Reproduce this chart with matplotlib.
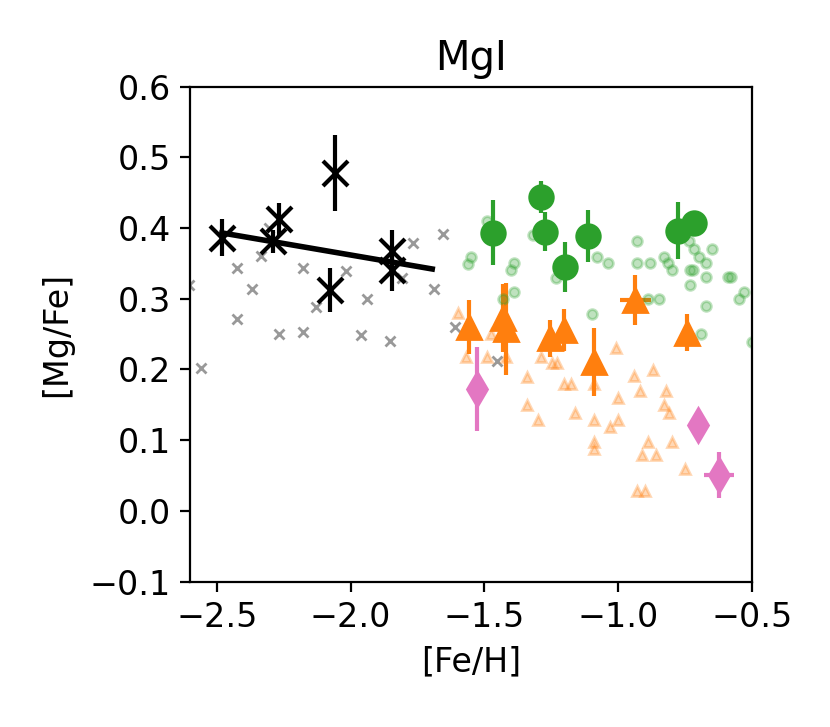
import matplotlib
matplotlib.use("Agg")
import matplotlib.pyplot as plt

plt.rcParams["font.size"] = 12

# literature stars (small, faint)
lit_metal_poor_feh = [-2.605, -2.561, -2.425, -2.367, -2.425, -2.334, -2.305, -2.269, -2.179, -2.179,
                      -2.129, -2.019, -1.938, -1.962, -1.854, -1.767, -1.808, -1.688, -1.653, -1.611, -1.454]
lit_metal_poor_mgfe = [0.319, 0.2015, 0.343, 0.313, 0.271, 0.360, 0.400, 0.250, 0.343, 0.253,
                       0.288, 0.339, 0.300, 0.249, 0.240, 0.379, 0.329, 0.314, 0.392, 0.260, 0.212]

lit_orange_feh = [-1.599, -1.570, -1.491, -1.476, -1.420, -1.339, -1.339, -1.299, -1.289, -1.249,
                  -1.227, -1.202, -1.177, -1.162, -1.092, -1.092, -1.092, -1.092, -1.030, -1.000,
                  -1.000, -1.008, -0.940, -0.920, -0.870, -0.820, -0.830, -0.811, -0.890, -0.911,
                  -0.858, -0.800, -0.750, -0.930, -0.898]
lit_orange_mgfe = [0.280, 0.218, 0.218, 0.250, 0.218, 0.189, 0.149, 0.128, 0.218, 0.209,
                   0.209, 0.179, 0.179, 0.139, 0.179, 0.128, 0.098, 0.088, 0.119, 0.159,
                   0.128, 0.230, 0.190, 0.169, 0.199, 0.169, 0.149, 0.139, 0.098, 0.079,
                   0.079, 0.098, 0.059, 0.028, 0.028]

lit_green_feh = [-1.491, -1.551, -1.560, -1.389, -1.401, -1.389, -1.429, -1.320, -1.233, -1.079,
                 -1.039, -1.099, -0.930, -0.930, -0.880, -0.890, -0.848, -0.830, -0.812, -0.800,
                 -0.737, -0.717, -0.699, -0.649, -0.670, -0.730, -0.720, -0.670, -0.730, -0.590,
                 -0.580, -0.530, -0.550, -0.670, -0.690, -0.500]
lit_green_mgfe = [0.410, 0.359, 0.349, 0.350, 0.340, 0.309, 0.300, 0.390, 0.329, 0.359,
                  0.350, 0.279, 0.381, 0.350, 0.350, 0.300, 0.300, 0.359, 0.350, 0.340,
                  0.381, 0.370, 0.359, 0.370, 0.350, 0.340, 0.340, 0.330, 0.319, 0.330,
                  0.330, 0.310, 0.299, 0.290, 0.250, 0.239]

# own measurements
black_feh = [-2.481, -2.291, -2.268, -2.059, -2.077, -1.847, -1.847]
black_mgfe = [0.386, 0.381, 0.412, 0.478, 0.312, 0.367, 0.341]
black_err = [0.026, 0.016, 0.024, 0.054, 0.031, 0.030, 0.030]

fit_feh = [-2.481, -1.695]
fit_mgfe = [0.393, 0.342]

orange_feh = [-1.556, -1.432, -1.418, -1.255, -1.202, -1.092, -0.936, -0.742]
orange_mgfe = [0.260, 0.273, 0.257, 0.244, 0.256, 0.211, 0.298, 0.252]
orange_err = [0.038, 0.048, 0.065, 0.026, 0.030, 0.048, 0.035, 0.026]
orange_xerr = [0, 0, 0, 0, 0, 0, 0.058, 0]

green_feh = [-1.469, -1.288, -1.272, -1.198, -1.114, -0.775, -0.715]
green_mgfe = [0.393, 0.4435, 0.395, 0.345, 0.389, 0.396, 0.4075]
green_err = [0.046, 0.023, 0.027, 0.035, 0.037, 0.0405, 0.015]

pink_feh = [-1.529, -0.700, -0.622]
pink_mgfe = [0.172, 0.121, 0.0505]
pink_err = [0.059, 0.015, 0.033]
pink_xerr = [0, 0, 0.056]

fig = plt.figure(figsize=(4.15, 3.635), dpi=200)
ax = fig.add_axes([0.229, 0.2, 0.677, 0.681])

ax.plot(lit_metal_poor_feh, lit_metal_poor_mgfe, "x", color="k", ms=3.5, alpha=0.4)
ax.errorbar(black_feh, black_mgfe, yerr=black_err, fmt="x", color="k", ms=9, mew=1.5)
ax.plot(fit_feh, fit_mgfe, "-", color="k", lw=2)

ax.plot(lit_orange_feh, lit_orange_mgfe, "^", color="C1", ms=3.5, alpha=0.3)
ax.errorbar(orange_feh, orange_mgfe, yerr=orange_err, xerr=orange_xerr, fmt="^", color="C1", ms=8.5)

ax.plot(lit_green_feh, lit_green_mgfe, "o", color="C2", ms=3.5, alpha=0.3)
ax.errorbar(green_feh, green_mgfe, yerr=green_err, fmt="o", color="C2", ms=8.5)

ax.errorbar(pink_feh, pink_mgfe, yerr=pink_err, xerr=pink_xerr, fmt="d", color="C6", ms=8.5)

ax.set_xlim(-2.6, -0.5)
ax.set_ylim(-0.1, 0.6)
ax.set_xlabel("[Fe/H]")
ax.set_ylabel("[Mg/Fe]", labelpad=6)
ax.set_title("MgI")

fig.savefig("out.png", dpi=200)
